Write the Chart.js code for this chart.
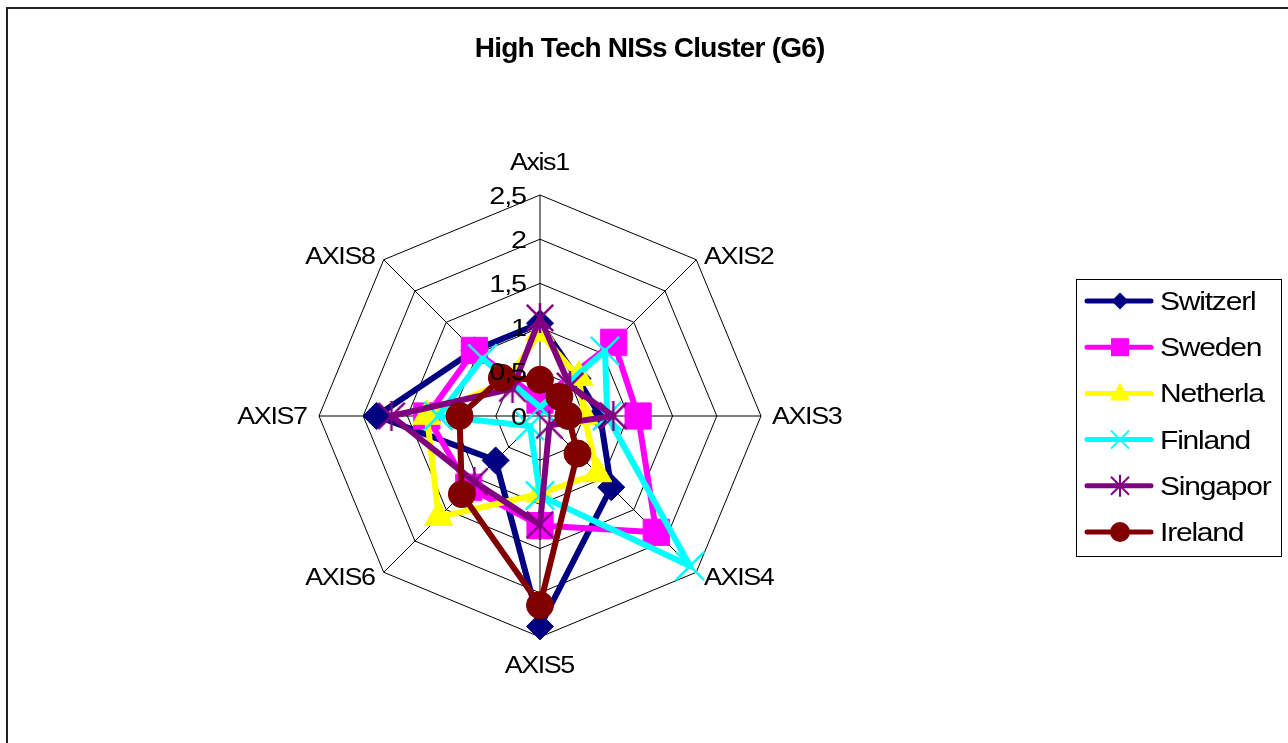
<!DOCTYPE html>
<html><head><meta charset="utf-8">
<script src="https://cdn.jsdelivr.net/npm/chart.js@4/dist/chart.umd.min.js"></script>
<style>
html,body{margin:0;padding:0;background:#fff;overflow:hidden;}
#wrap{position:relative;width:1288px;height:743px;overflow:hidden;}
#frame{position:absolute;left:6px;top:7px;width:1300px;height:760px;border-left:2px solid #222;border-top:2px solid #222;}
canvas{position:absolute;left:0;top:0;}
</style></head><body>
<div id="wrap"><div id="frame"></div><canvas id="c" width="1288" height="743"></canvas></div>
<script>
// ---- data ----
const chartTitle = 'High Tech NISs Cluster (G6)';
const axisLabels = ['Axis1', 'AXIS2', 'AXIS3', 'AXIS4', 'AXIS5', 'AXIS6', 'AXIS7', 'AXIS8'];
const seriesNames = ['Switzerl', 'Sweden', 'Netherla', 'Finland', 'Singapor', 'Ireland'];
const switzerland = [1.05, 0.60, 0.68, 1.14, 2.38, 0.71, 1.85, 1.05];
const sweden      = [0.18, 1.18, 1.11, 1.86, 1.24, 1.14, 1.28, 1.05];
const netherlands = [0.94, 0.62, 0.50, 0.92, 0.88, 1.62, 1.28, 0.55];
const finland     = [0.10, 1.04, 0.76, 2.40, 0.90, 0.16, 1.15, 0.92];
const singapore   = [1.11, 0.48, 0.83, 0.15, 1.23, 1.05, 1.68, 0.44];
const ireland     = [0.41, 0.31, 0.32, 0.60, 2.14, 1.25, 0.91, 0.61];
const tickValues  = [0, 0.5, 1, 1.5, 2, 2.5];

const seriesData = [switzerland, sweden, netherlands, finland, singapore, ireland];
const colors = ['#000080', '#FF00FF', '#FFFF00', '#00FFFF', '#800080', '#800000'];

// custom asterisk marker for Singapore
function makeStar(size, lw, color) {
  const c = document.createElement('canvas');
  c.width = size; c.height = size;
  const g = c.getContext('2d');
  g.strokeStyle = color; g.lineWidth = lw;
  const h = size / 2, d = h * 0.88;
  g.beginPath();
  g.moveTo(h, 0); g.lineTo(h, size);
  g.moveTo(h - d, h - d); g.lineTo(h + d, h + d);
  g.moveTo(h + d, h - d); g.lineTo(h - d, h + d);
  g.stroke();
  return c;
}
const starBig = makeStar(30, 2.5, '#800080');

const pointStyles = ['rectRot', 'rect', 'triangle', 'crossRot', starBig, 'circle'];
const pointRadii = [13.5, 18.5, 16.5, 20, 15, 13.5];
const pointBorderW = [1, 1, 1, 2.5, 1, 1];

const datasets = seriesNames.map((n, i) => ({
  label: n,
  data: seriesData[i],
  borderColor: colors[i],
  backgroundColor: colors[i],
  borderWidth: 6,
  fill: false,
  tension: 0,
  borderJoinStyle: 'round',
  borderCapStyle: 'round',
  pointStyle: pointStyles[i],
  pointRadius: pointRadii[i],
  pointHoverRadius: pointRadii[i],
  pointBackgroundColor: colors[i],
  pointBorderColor: colors[i],
  pointBorderWidth: pointBorderW[i],
  order: seriesNames.length - 1 - i
}));

function fmt(v) { return String(v).replace('.', ','); }

function txt(ctx, s, x, y, o) {
  ctx.save();
  ctx.font = o.font;
  ctx.fillStyle = '#000';
  ctx.textBaseline = 'alphabetic';
  ctx.textAlign = 'left';
  try { ctx.letterSpacing = (o.ls || 0) + 'px'; } catch (e) {}
  const sx = o.sx || 1;
  const w = (ctx.measureText(s).width - (o.ls || 0)) * sx;
  let left = x;
  if (o.align === 'center') left = x - w / 2;
  else if (o.align === 'right') left = x - w;
  ctx.translate(left, y);
  ctx.scale(sx, 1);
  ctx.fillText(s, 0, 0);
  ctx.restore();
}

function legendMarker(ctx, i, x, y) {
  ctx.save();
  ctx.fillStyle = colors[i];
  ctx.strokeStyle = colors[i];
  ctx.beginPath();
  if (i === 0) {
    const r = 8.5;
    ctx.moveTo(x, y - r); ctx.lineTo(x + r, y); ctx.lineTo(x, y + r); ctx.lineTo(x - r, y); ctx.closePath(); ctx.fill();
  } else if (i === 1) {
    ctx.rect(x - 9, y - 9, 18, 18); ctx.fill();
  } else if (i === 2) {
    ctx.moveTo(x, y - 11); ctx.lineTo(x + 10, y + 7); ctx.lineTo(x - 10, y + 7); ctx.closePath(); ctx.fill();
  } else if (i === 3) {
    ctx.lineWidth = 2;
    ctx.moveTo(x - 9, y - 9); ctx.lineTo(x + 9, y + 9); ctx.moveTo(x + 9, y - 9); ctx.lineTo(x - 9, y + 9); ctx.stroke();
  } else if (i === 4) {
    ctx.lineWidth = 2;
    ctx.moveTo(x, y - 11); ctx.lineTo(x, y + 11);
    ctx.moveTo(x - 9, y - 9); ctx.lineTo(x + 9, y + 9); ctx.moveTo(x + 9, y - 9); ctx.lineTo(x - 9, y + 9); ctx.stroke();
  } else {
    ctx.arc(x, y, 10, 0, Math.PI * 2); ctx.fill();
  }
  ctx.restore();
}

const decor = {
  id: 'decor',
  afterDraw(chart) {
    const ctx = chart.ctx;
    const s = chart.scales.r;
    const cx = s.xCenter, cy = s.yCenter, R = s.drawingArea;

    // title
    txt(ctx, chartTitle, 650, 57, { font: 'bold 28px "Liberation Sans", Arial, sans-serif', ls: -0.8, align: 'center' });

    // tick labels
    tickValues.forEach(v => {
      const d = s.getDistanceFromCenterForValue(v);
      txt(ctx, fmt(v), cx - 13, cy - d + 8.5, { font: '24px "Liberation Sans", Arial, sans-serif', ls: -1, sx: 1.2, align: 'right' });
    });

    // axis (point) labels
    const lf = { font: '23px "Liberation Sans", Arial, sans-serif', ls: -1.2, sx: 1.17 };
    axisLabels.forEach((lab, i) => {
      const p = s.getPointPosition(i, R + 11);
      let align, yc;
      const dx = p.x - cx, dy = p.y - cy;
      if (Math.abs(dx) < 2) {
        align = 'center';
        yc = dy < 0 ? p.y - 22 : p.y + 17;
      } else {
        align = dx > 0 ? 'left' : 'right';
        if (Math.abs(dy) < 2) yc = p.y;
        else yc = dy < 0 ? p.y + 4 : p.y - 3;
      }
      txt(ctx, lab, p.x, yc + 8.2, Object.assign({ align }, lf));
    });

    // legend
    const bx = 1076.5, by = 279.5, bw = 205, bh = 277;
    ctx.save();
    ctx.strokeStyle = '#000'; ctx.lineWidth = 1;
    ctx.strokeRect(bx, by, bw, bh);
    ctx.restore();
    seriesNames.forEach((n, i) => {
      const y = 301 + i * 46.2;
      ctx.save();
      ctx.strokeStyle = colors[i]; ctx.lineWidth = 5; ctx.lineCap = 'round';
      ctx.beginPath(); ctx.moveTo(1087, y); ctx.lineTo(1151, y); ctx.stroke();
      ctx.restore();
      legendMarker(ctx, i, 1120, y);
      txt(ctx, n, 1160, y + 9, { font: '25px "Liberation Sans", Arial, sans-serif', ls: -1, sx: 1.2, align: 'left' });
    });
  }
};

new Chart(document.getElementById('c'), {
  type: 'radar',
  data: { labels: axisLabels, datasets },
  options: {
    responsive: false,
    animation: false,
    devicePixelRatio: 1,
    layout: { padding: { left: 100, right: 308, top: 195, bottom: 106 } },
    plugins: { legend: { display: false }, title: { display: false }, tooltip: { enabled: false } },
    scales: {
      r: {
        min: 0, max: 2.5,
        ticks: { stepSize: 0.5, display: false },
        pointLabels: { display: false },
        grid: { color: '#000', lineWidth: 1 },
        angleLines: { color: '#000', lineWidth: 1 }
      }
    }
  },
  plugins: [decor]
});
</script>
</body></html>
